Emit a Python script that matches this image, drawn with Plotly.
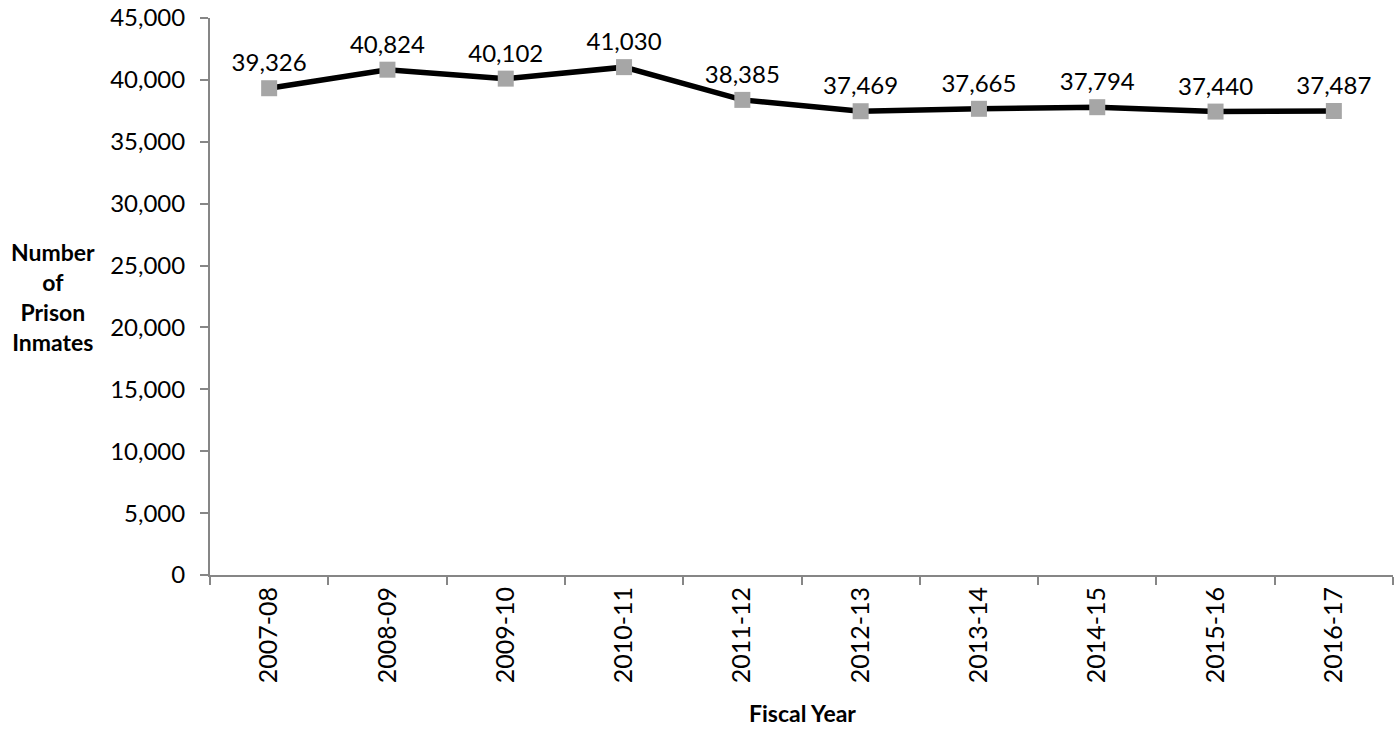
import plotly.graph_objects as go

years = ["2007-08", "2008-09", "2009-10", "2010-11", "2011-12",
         "2012-13", "2013-14", "2014-15", "2015-16", "2016-17"]
inmates = [39326, 40824, 40102, 41030, 38385,
           37469, 37665, 37794, 37440, 37487]
y_ticks = list(range(0, 45001, 5000))

FONT = "Lato"
AXIS_GRAY = "#868686"

fig = go.Figure(
    go.Scatter(
        x=years,
        y=inmates,
        mode="lines+markers+text",
        line=dict(color="black", width=5.5),
        marker=dict(symbol="square", size=16, color="#A6A6A6",
                    line=dict(width=0)),
        text=[f"{v:,}" for v in inmates],
        textposition="top center",
        textfont=dict(family=FONT, size=24, color="black"),
        cliponaxis=False,
        hoverinfo="x+y",
    )
)

fig.update_layout(
    width=1396,
    height=730,
    margin=dict(l=210, r=3, t=18, b=155),
    paper_bgcolor="white",
    plot_bgcolor="white",
    showlegend=False,
    font=dict(family=FONT, size=23, color="black"),
)

fig.update_xaxes(
    type="category",
    range=[-0.5, len(years) - 0.5],
    tickangle=-90,
    tickson="boundaries",
    ticks="outside",
    ticklen=8,
    tickcolor=AXIS_GRAY,
    tickwidth=2,
    showline=True,
    linecolor=AXIS_GRAY,
    linewidth=2,
    showgrid=False,
    tickfont=dict(family=FONT, size=25),
)

fig.update_yaxes(
    range=[0, 45000],
    tickvals=y_ticks,
    ticktext=[f"{v:,}" for v in y_ticks],
    ticks="outside",
    ticklen=8,
    tickcolor=AXIS_GRAY,
    tickwidth=2,
    ticklabelstandoff=10,
    showline=True,
    linecolor=AXIS_GRAY,
    linewidth=2,
    showgrid=False,
    zeroline=False,
    tickfont=dict(family=FONT, size=24),
)

fig.add_annotation(
    text="<b>Number<br>of<br>Prison<br>Inmates</b>",
    xref="paper", yref="paper",
    x=-0.133, y=0.499,
    xanchor="center", yanchor="middle",
    showarrow=False,
    align="center",
    font=dict(family=FONT, size=23, color="black"),
)

# axis title sits in the bottom margin, kept inside the page edge
fig.add_annotation(
    text="<b>Fiscal Year</b>",
    xref="paper", yref="paper",
    x=0.501, y=-0.248,
    xanchor="center", yanchor="middle",
    showarrow=False,
    font=dict(family=FONT, size=23, color="black"),
)

fig.write_html("out.html")
